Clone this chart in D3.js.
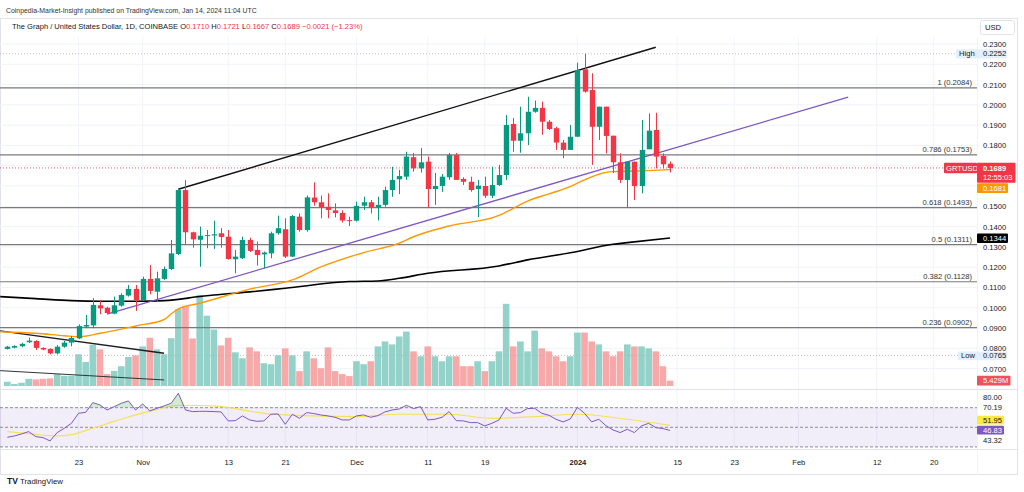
<!DOCTYPE html>
<html><head><meta charset="utf-8">
<script src="https://cdn.jsdelivr.net/npm/d3@7"></script>
<style>
body{margin:0;background:#fff;}
svg{display:block;font-family:"Liberation Sans",Arial,sans-serif;}
</style>
</head><body>
<svg id="c" width="1024" height="492"></svg>
<script>
// ---------- DATA ----------
const firstDay = "2023-10-13";
const opens = [0.0797,0.0803,0.0810,0.0830,0.0836,0.0802,0.0797,0.0775,0.0808,0.0828,
0.0849,0.0907,0.0913,0.1012,0.1000,0.0971,0.1010,0.1060,0.1093,0.1038,
0.1142,0.1079,0.1142,0.1191,0.1265,0.1580,0.1372,0.1335,0.1356,0.1356,
0.1367,0.1350,0.1239,0.1244,0.1334,0.1285,0.1263,0.1268,0.1367,0.1387,
0.1252,0.1449,0.1383,0.1543,0.1520,0.1498,0.1480,0.1467,0.1432,0.1429,
0.1503,0.1520,0.1495,0.1507,0.1580,0.1633,0.1646,0.1742,0.1687,0.1720,
0.1585,0.1600,0.1643,0.1753,0.1635,0.1621,0.1585,0.1600,0.1552,0.1605,
0.1654,0.1906,0.1823,0.1860,0.1966,0.1985,0.1917,0.1885,0.1814,0.1778,
0.1843,0.2175,0.2073,0.1892,0.1991,0.1848,0.1717,0.1630,0.1720,0.1600,
0.1781,0.1876,0.1748,0.1710];
const highs = [0.0812,0.0815,0.0827,0.0852,0.0840,0.0805,0.0800,0.0816,0.0836,0.0861,
0.0918,0.0964,0.1047,0.1038,0.1005,0.1055,0.1071,0.1112,0.1112,0.1153,
0.1211,0.1178,0.1203,0.1334,0.1584,0.1630,0.1375,0.1400,0.1383,0.1429,
0.1392,0.1383,0.1285,0.1350,0.1345,0.1326,0.1277,0.1375,0.1454,0.1441,
0.1457,0.1465,0.1553,0.1618,0.1553,0.1564,0.1515,0.1480,0.1449,0.1523,
0.1547,0.1531,0.1547,0.1597,0.1695,0.1680,0.1769,0.1763,0.1787,0.1745,
0.1664,0.1659,0.1763,0.1763,0.1643,0.1646,0.1630,0.1646,0.1695,0.1704,
0.1950,0.1935,0.1991,0.2040,0.2021,0.2016,0.1925,0.1892,0.1827,0.1901,
0.2208,0.2252,0.2156,0.1991,0.1991,0.1848,0.1761,0.1720,0.1720,0.1925,
0.1958,0.1961,0.1761,0.1721];
const lows = [0.0794,0.0800,0.0806,0.0826,0.0792,0.0790,0.0770,0.0770,0.0803,0.0810,
0.0845,0.0899,0.0899,0.0968,0.0970,0.0968,0.1005,0.1055,0.0984,0.1033,
0.1066,0.1030,0.1137,0.1186,0.1260,0.1309,0.1296,0.1202,0.1293,0.1290,
0.1296,0.1237,0.1170,0.1240,0.1275,0.1208,0.1194,0.1244,0.1360,0.1245,
0.1250,0.1375,0.1375,0.1503,0.1441,0.1441,0.1445,0.1420,0.1403,0.1425,
0.1482,0.1465,0.1430,0.1498,0.1547,0.1560,0.1630,0.1671,0.1666,0.1492,
0.1507,0.1571,0.1630,0.1630,0.1605,0.1572,0.1447,0.1541,0.1541,0.1600,
0.1630,0.1769,0.1764,0.1802,0.1961,0.1852,0.1876,0.1778,0.1737,0.1778,
0.1843,0.2060,0.1704,0.1827,0.1761,0.1664,0.1615,0.1492,0.1531,0.1564,
0.1781,0.1687,0.1687,0.1667];
const closes = [0.0808,0.0811,0.0822,0.0838,0.0802,0.0794,0.0775,0.0808,0.0828,0.0851,
0.0910,0.0915,0.1014,0.0997,0.0974,0.1012,0.1063,0.1093,0.1038,0.1142,
0.1083,0.1145,0.1191,0.1268,0.1580,0.1372,0.1337,0.1355,0.1358,0.1362,
0.1349,0.1240,0.1252,0.1334,0.1280,0.1260,0.1272,0.1367,0.1392,0.1252,
0.1452,0.1383,0.1544,0.1520,0.1495,0.1482,0.1467,0.1430,0.1430,0.1502,
0.1520,0.1494,0.1507,0.1580,0.1630,0.1649,0.1745,0.1687,0.1717,0.1585,
0.1600,0.1646,0.1753,0.1630,0.1621,0.1580,0.1602,0.1552,0.1605,0.1654,
0.1901,0.1823,0.1860,0.1966,0.1985,0.1917,0.1881,0.1814,0.1778,0.1843,
0.2172,0.2065,0.1892,0.1991,0.1847,0.1717,0.1630,0.1720,0.1600,0.1778,
0.1873,0.1745,0.1707,0.1689];
const volumes = [4.3,2,3.3,7.3,6.7,7.3,7.7,12,10.3,10.3,
32,24.3,41.7,37,12,15.3,20,29.3,31,40,
48.7,37,32,48.3,77.7,81,48,92,71,57,
41,48.7,34,28,39,35,23,22,31,38,
31,15,35,28,18,39,15,12,10,25,
22,25,40,45,42,50,55,35,30,40,
30,25,30,30,20,20,25,15,25,35,
83,40,45,35,56,38,35,30,25,30,
54,54,45,42,35,30,35,42,40,40,
38,35,20,5.429];
const rsi = [39.8,41.2,43.2,45.6,40.5,39.5,36.1,44.6,49.0,54.1,
64.3,65.3,75.2,72.8,67.7,71.1,74.5,76.9,67.7,73.8,
66.7,69.4,71.8,74.5,84.7,67.7,66.0,66.3,66.3,66.0,
65.7,56.5,56.8,61.6,57.5,56.1,56.5,63.3,63.6,53.1,
63.3,59.2,65.0,64.0,62.6,61.6,60.2,57.5,57.5,61.6,
62.6,60.2,61.9,65.7,67.7,68.7,72.5,69.1,71.1,57.5,
58.2,60.2,66.0,56.8,56.5,54.8,54.8,51.4,54.1,57.5,
69.4,64.3,65.0,69.1,69.4,64.3,62.3,58.2,55.5,58.5,
70.4,64.3,55.5,58.2,51.7,47.3,44.6,48.0,44.6,51.4,
54.1,49.7,48.7,46.83];
const rsiMaIdx = [1,4,8,10,13,16,19,22,25,30,37,44,50,56,63,69,75,81,88,94];
const rsiMaVal = [45.6,43.5,41.2,42.5,49,56,62.6,68,72.5,71.8,64.3,61.6,60.9,63.3,63.3,59.2,60.9,63.3,58.2,51.95];
// moving averages on price: [candle index, value]
const maOrangeIdx = [0,5,9,11,14,19,23,24,25,28,35,41,45,51,56,58,63,70,72,74,77,80,82,85,86,91,94];
const maOrangeVal = [0.0882,0.0874,0.0862,0.0857,0.0874,0.0910,0.0942,0.0969,0.0994,0.1022,0.1092,0.1137,0.1201,0.1272,0.1318,0.1350,0.1403,0.1455,0.1490,0.1526,0.1561,0.1597,0.1630,0.1667,0.1671,0.1676,0.1681];
const maBlackIdx = [0,5,10,14,19,23,28,30,35,40,49,53,56,60,70,74,80,86,88,94];
const maBlackVal = [0.1055,0.1045,0.1035,0.1032,0.1032,0.1035,0.1055,0.1063,0.1078,0.1096,0.1129,0.1132,0.1145,0.1170,0.1206,0.1236,0.1271,0.1313,0.1321,0.1344];
// fibonacci retracement
const fibRatios = ["1","0.786","0.618","0.5","0.382","0.236"];
const fibPrices = [0.2084,0.1753,0.1493,0.1311,0.1128,0.0902];
// trend lines: [startIdx, startPrice, endIdx, endPrice]
const channelTop = [25,0.1584,92,0.2284];
const channelBottom = [15,0.0968,119,0.2038];
const oldLineA = [0,0.0886,23,0.0776];
const oldLineB = [0,0.0690,23,0.0644];
const priceTicks = [0.23,0.22,0.21,0.20,0.19,0.18,0.15,0.14,0.13,0.12,0.11,0.10,0.09,0.08,0.07];
const gridPrices = [0.23,0.22,0.21,0.20,0.19,0.18,0.17,0.16,0.15,0.14,0.13,0.12,0.11,0.10,0.09,0.08,0.07];
const timeTickDates = ["2023-10-23","2023-11-01","2023-11-13","2023-11-21","2023-12-01","2023-12-11","2023-12-19","2024-01-01","2024-01-15","2024-01-23","2024-02-01","2024-02-12","2024-02-20"];
const timeTickLabels = ["23","Nov","13","21","Dec","11","19","2024","15","23","Feb","12","20"];
const highLow = {high:0.2252, low:0.0765};
const lastPrice = 0.1689;

// ---------- SCALES ----------
const svg = d3.select("#c");
const parse = d3.utcParse("%Y-%m-%d");
const d0 = parse(firstDay);
const dayOf = k => d3.utcDay.offset(d0, k-1);
const x = d3.scaleUtc().domain([d0, parse("2024-02-20")]).range([7.3, 933.7]);
const y = d3.scaleLinear().domain([0.07,0.23]).range([368.6,44]);
const yV = d3.scaleLinear().domain([0,100]).range([386,287]);
const yR = d3.scaleLinear().domain([30,70]).range([446.9,407.7]);
const PR = 977;
const GREEN="#089981", RED="#f23645";
const FS = 7.6;

const candles = closes.map((c,i)=>({d:dayOf(i+1),o:opens[i],h:highs[i],l:lows[i],c:c,v:volumes[i],r:rsi[i]}));

// ---------- FRAME / HEADER ----------
svg.append("rect").attr("width",1024).attr("height",492).attr("fill","#fff");
svg.append("text").attr("x",6).attr("y",13).attr("font-size",6.9).attr("fill","#333")
  .text("Coinpedia-Market-Insight published on TradingView.com, Jan 14, 2024 11:04 UTC");
svg.append("rect").attr("x",0.5).attr("y",18.5).attr("width",1017).attr("height",456)
  .attr("fill","none").attr("stroke","#e0e3eb");

const defs = svg.append("defs");
defs.append("clipPath").attr("id","cp").append("rect").attr("x",0).attr("y",37).attr("width",PR).attr("height",352);
defs.append("clipPath").attr("id","cr").append("rect").attr("x",0).attr("y",390).attr("width",PR).attr("height",59);
defs.append("clipPath").attr("id","cob").append("rect").attr("x",0).attr("y",390).attr("width",PR).attr("height",yR(70)-390);

// grid
const grid = svg.append("g");
grid.selectAll("line.v").data(timeTickDates).join("line")
  .attr("x1",d=>x(parse(d))).attr("x2",d=>x(parse(d))).attr("y1",37).attr("y2",449)
  .attr("stroke","#f0f3fa").attr("stroke-width",1);
grid.selectAll("line.h").data(gridPrices).join("line")
  .attr("x1",0).attr("x2",PR).attr("y1",d=>y(d)).attr("y2",d=>y(d))
  .attr("stroke","#f0f3fa").attr("stroke-width",1);

// panel separators
svg.append("line").attr("x1",0).attr("x2",1017).attr("y1",389.5).attr("y2",389.5).attr("stroke","#e0e3eb");
svg.append("line").attr("x1",0).attr("x2",1017).attr("y1",449.5).attr("y2",449.5).attr("stroke","#e0e3eb");
svg.append("line").attr("x1",PR+0.5).attr("x2",PR+0.5).attr("y1",37).attr("y2",475).attr("stroke","#f0f3fa");

const P = svg.append("g").attr("clip-path","url(#cp)");

// volume
const bw = 5.4;
P.selectAll("rect.vol").data(candles).join("rect")
  .attr("x",d=>x(d.d)-bw/2-0.6).attr("width",bw+1.2)
  .attr("y",d=>yV(d.v)).attr("height",d=>yV(0)-yV(d.v))
  .attr("fill",d=>d.c>=d.o?"#92d2c9":"#f7a9a9");

// fib lines
fibPrices.forEach((p,i)=>{
  P.append("line").attr("x1",0).attr("x2",PR).attr("y1",y(p)).attr("y2",y(p))
    .attr("stroke","#7a7a7a").attr("stroke-width",1.2);
  P.append("text").attr("x",972).attr("y",y(p)-3).attr("text-anchor","end")
    .attr("font-size",FS).attr("fill","#333").text(`${fibRatios[i]} (${p.toFixed(4)})`);
});

// high / low / last dotted
[[highLow.high,"#b0b3bc"],[highLow.low,"#b0b3bc"],[lastPrice,RED]].forEach(([p,c])=>{
  P.append("line").attr("x1",0).attr("x2",PR).attr("y1",y(p)).attr("y2",y(p))
    .attr("stroke",c).attr("stroke-width",1).attr("stroke-dasharray","1,2").attr("opacity",0.8);
});

// old channel lines
const segLine = (a,color,w)=>P.append("line")
  .attr("x1",x(dayOf(a[0]))).attr("y1",y(a[1])).attr("x2",x(dayOf(a[2]))).attr("y2",y(a[3]))
  .attr("stroke",color).attr("stroke-width",w);
segLine(oldLineA,"#1e1e1e",1.4);
segLine(oldLineB,"#333",1);

// moving averages
const lineGen = d3.line().x(d=>x(dayOf(d[0]))).y(d=>y(d[1])).curve(d3.curveMonotoneX);
P.append("path").attr("d",lineGen(maBlackIdx.map((k,i)=>[k,maBlackVal[i]])))
  .attr("fill","none").attr("stroke","#000").attr("stroke-width",1.6);
P.append("path").attr("d",lineGen(maOrangeIdx.map((k,i)=>[k,maOrangeVal[i]])))
  .attr("fill","none").attr("stroke","#ff9800").attr("stroke-width",1.4);

// channel
segLine(channelBottom,"#7e57c2",1.3);
segLine(channelTop,"#111",1.4);

// candles
const cg = P.append("g");
cg.selectAll("line.w").data(candles).join("line")
  .attr("x1",d=>Math.round(x(d.d))+0.5).attr("x2",d=>Math.round(x(d.d))+0.5)
  .attr("y1",d=>y(d.h)).attr("y2",d=>y(d.l))
  .attr("stroke",d=>d.c>=d.o?GREEN:RED).attr("stroke-width",1);
cg.selectAll("rect.b").data(candles).join("rect")
  .attr("x",d=>Math.round(x(d.d))+0.5-bw/2).attr("width",bw)
  .attr("y",d=>y(Math.max(d.o,d.c))).attr("height",d=>Math.max(1,Math.abs(y(d.o)-y(d.c))))
  .attr("fill",d=>d.c>=d.o?GREEN:RED);

// ---------- RSI ----------
const R = svg.append("g").attr("clip-path","url(#cr)");
R.append("rect").attr("x",0).attr("width",PR).attr("y",yR(70)).attr("height",yR(30)-yR(70)).attr("fill","#7e57c2").attr("opacity",0.1);
[70,50,30].forEach(v=>{
  R.append("line").attr("x1",0).attr("x2",PR).attr("y1",yR(v)).attr("y2",yR(v))
    .attr("stroke","#8a8d96").attr("stroke-dasharray","3,2").attr("stroke-width",1);
});
const ob = svg.append("g").attr("clip-path","url(#cob)");
ob.append("path").datum(candles)
  .attr("d",d3.area().x(d=>x(d.d)).y0(yR(70)).y1(d=>yR(d.r)))
  .attr("fill","#4caf50").attr("opacity",0.25);
R.append("path").attr("d",d3.line().x(d=>x(dayOf(d[0]))).y(d=>yR(d[1])).curve(d3.curveMonotoneX)(rsiMaIdx.map((k,i)=>[k,rsiMaVal[i]])))
  .attr("fill","none").attr("stroke","#f5e15a").attr("stroke-width",1.2);
R.append("path").datum(candles).attr("d",d3.line().x(d=>x(d.d)).y(d=>yR(d.r)))
  .attr("fill","none").attr("stroke","#7e57c2").attr("stroke-width",1);

// ---------- AXES ----------
const ax = svg.append("g").attr("transform",`translate(${PR},0)`)
  .call(d3.axisRight(y).tickValues(priceTicks).tickFormat(d3.format(".4f")).tickSize(0).tickPadding(6));
ax.select(".domain").remove();
ax.selectAll("text").attr("font-size",FS).attr("fill","#131722").attr("font-family","Liberation Sans, Arial, sans-serif");

const tx = svg.append("g").attr("transform","translate(0,456)")
  .call(d3.axisBottom(x).tickValues(timeTickDates.map(parse)).tickFormat((d,i)=>timeTickLabels[i]).tickSize(0).tickPadding(4));
tx.select(".domain").remove();
tx.selectAll("text").attr("font-size",FS).attr("fill","#131722").attr("font-family","Liberation Sans, Arial, sans-serif")
  .attr("font-weight",(d,i)=>timeTickLabels[i]==="2024"?"bold":"normal");

// RSI axis texts
[["80.00",397.7],["70.19",407.7],["43.32",441]].forEach(([t,yy])=>{
  svg.append("text").attr("x",PR+6).attr("y",yy).attr("dy","0.32em").attr("font-size",FS).attr("fill","#131722").text(t);
});

// ---------- LABEL BOXES ----------
function box(x0,y0,w,h,fill,txt,tc,tx0){
  svg.append("rect").attr("x",x0).attr("y",y0).attr("width",w).attr("height",h).attr("fill",fill).attr("rx",1);
  if(txt) svg.append("text").attr("x",tx0===undefined?x0+3:tx0).attr("y",y0+h/2).attr("dy","0.33em")
    .attr("font-size",FS).attr("fill",tc).text(txt);
}
// USD
svg.append("rect").attr("x",980.5).attr("y",20.5).attr("width",34).attr("height",14).attr("rx",2).attr("fill","#fff").attr("stroke","#e0e3eb");
svg.append("text").attr("x",985).attr("y",27.5).attr("dy","0.33em").attr("font-size",FS).attr("fill","#131722").text("USD");
// High / Low
box(956,y(highLow.high)-4.5,51,9.2,"#e3effd","High","#131722");
svg.append("text").attr("x",PR+6).attr("y",y(highLow.high)).attr("dy","0.33em").attr("font-size",FS).attr("fill","#131722").text(highLow.high.toFixed(4));
box(958,y(highLow.low)-4,49,8.8,"#e3effd","Low","#131722");
svg.append("text").attr("x",PR+6).attr("y",y(highLow.low)+0.4).attr("dy","0.33em").attr("font-size",FS).attr("fill","#131722").text(highLow.low.toFixed(4));
// last price
box(944,162.7,33,10.6,RED,"GRTUSD","#fff",946);
box(PR,162.7,38.5,20,RED,null);
svg.append("text").attr("x",PR+6).attr("y",168).attr("dy","0.33em").attr("font-size",FS).attr("fill","#fff").attr("font-weight","bold").text(lastPrice.toFixed(4));
svg.append("text").attr("x",PR+6).attr("y",177.3).attr("dy","0.33em").attr("font-size",FS).attr("fill","#fff").text("12:55:03");
box(PR,183.3,31,9.6,"#ff9800",maOrangeVal[maOrangeVal.length-1].toFixed(4),"#fff",PR+6);
box(PR,233.5,31,9.6,"#000",maBlackVal[maBlackVal.length-1].toFixed(4),"#fff",PR+6);
box(PR,375.8,33.5,9.6,"#f0525c",volumes[volumes.length-1].toFixed(3)+"M","#fff",PR+6);
box(PR,415.7,27,8.8,"#ffeb3b",rsiMaVal[rsiMaVal.length-1].toFixed(2),"#131722",PR+6);
box(PR,425.7,27,8.8,"#7e57c2",rsi[rsi.length-1].toFixed(2),"#fff",PR+6);

// title line 2
const t2 = svg.append("text").attr("x",12).attr("y",29).attr("font-size",7.55).attr("fill","#131722");
t2.append("tspan").text("The Graph / United States Dollar, 1D, COINBASE  ");
[["O",opens],["H",highs],["L",lows],["C",closes]].forEach(([k,arr])=>{
  t2.append("tspan").text(" "+k);
  t2.append("tspan").attr("fill",RED).text(arr[arr.length-1].toFixed(4));
});
t2.append("tspan").attr("fill",RED).text("  −0.0021 (−1.23%)");

// TradingView logo
svg.append("text").attr("x",7).attr("y",484).attr("font-size",8.5).attr("font-weight","bold").attr("fill","#131722").text("TV");
svg.append("text").attr("x",20).attr("y",484).attr("font-size",7.8).attr("fill","#131722").text("TradingView");
</script>
</body></html>
